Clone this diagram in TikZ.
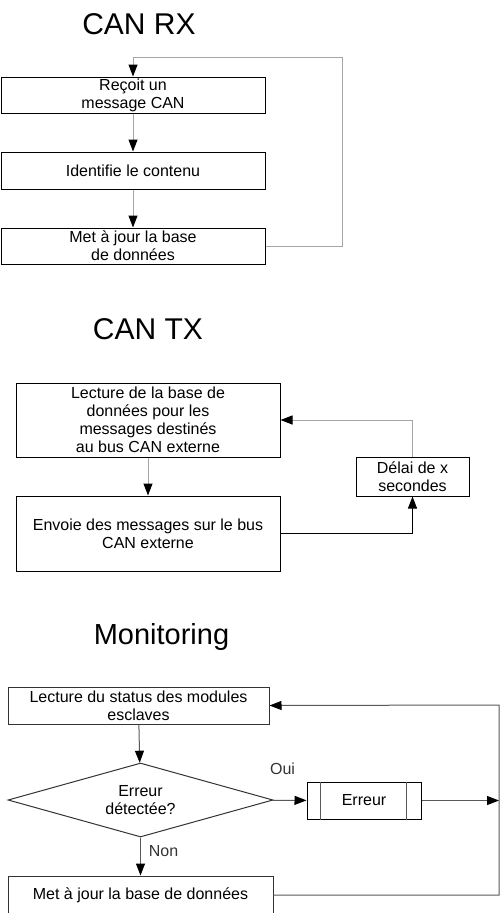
\documentclass[tikz,border=0pt]{standalone}
\usepackage{fontspec}
\setmainfont{Liberation Sans}
\usetikzlibrary{shapes.geometric,arrows.meta,positioning}

\begin{document}
\begin{tikzpicture}[x=1pt,y=-1pt, every node/.style={font=\fontsize{16}{18}\selectfont, align=center},
    box/.style={draw, rectangle, line width=1pt, inner sep=0pt},
    titre/.style={font=\fontsize{30}{33}\selectfont, anchor=base},
    flow/.style={gray!70, line width=1pt, -{Triangle[length=12pt,width=9pt,color=black]}},
    flownoir/.style={flow, black},
    flowmon/.style={flow, black!65}]
    \useasboundingbox (0,0) rectangle (500,913);

    % CAN RX
    \node[titre] (titreRX) at (139,34) {CAN RX};
    \node[box, minimum width=264pt, minimum height=36pt] (recoit) at (133,95) {Reçoit un\\message CAN};
    \node[box, minimum width=264pt, minimum height=37pt] (identifie) at (133,170.5) {Identifie le contenu};
    \node[box, minimum width=264pt, minimum height=36pt] (majRX) at (133,246) {Met à jour la base\\de données};
    \coordinate (boucleRX) at (342,57);
    \draw[flow] (recoit) -- (identifie);
    \draw[flow] (identifie) -- (majRX);
    \draw[flow] (majRX.east) -| (boucleRX) -| (recoit.north);

    % CAN TX
    \node[titre] (titreTX) at (148,339) {CAN TX};
    \node[box, minimum width=264pt, minimum height=74pt] (lectureTX) at (148,420) {Lecture de la base de\\données pour les\\messages destinés\\au bus CAN externe};
    \node[box, minimum width=264pt, minimum height=75pt] (envoie) at (148,533.5) {Envoie des messages sur le bus\\CAN externe};
    \node[box, minimum width=113pt, minimum height=39pt] (delai) at (412.5,476.5) {Délai de x\\secondes};
    \draw[flow] (lectureTX) -- (envoie);
    \draw[flownoir] (envoie.east) -| (delai.south);
    \draw[flow] (delai.north) |- (lectureTX.east);

    % Monitoring
    \node[titre, font=\fontsize{29}{32}\selectfont] (titreMon) at (161.5,644) {Monitoring};
    \node[box, draw=black!80, minimum width=261pt, minimum height=37pt] (status) at (138.5,705.5) {Lecture du status des modules\\esclaves};
    \node[draw, diamond, line width=1pt, draw=black!80, inner sep=0pt, aspect=3.6, minimum width=265pt, minimum height=74pt] (erreurQ) at (140.5,800) {Erreur\\détectée?};
    \node[box, minimum width=114pt, minimum height=37pt] (erreur) at (364,800.5) {Erreur};
    \foreach \s in {14,100}{
        \draw[black!65, line width=1pt] ([xshift=\s pt]erreur.north west) -- ([xshift=\s pt]erreur.south west);
    }
    \node[box, draw=black!80, minimum width=265pt, minimum height=38pt] (majMon) at (140.5,895) {Met à jour la base de données};
    \node[anchor=base, text=black!80] (oui) at (282.5,774) {Oui};
    \node[anchor=base, text=black!80] (non) at (163.5,856.5) {Non};
    \coordinate (retourMon) at (499,705);
    \draw[flowmon] (status) -- (erreurQ);
    \draw[flowmon] (erreurQ) -- (erreur);
    \draw[flowmon] (erreurQ) -- (majMon);
    \draw[flowmon] (erreur.east) -- (erreur.east -| retourMon);
    \draw[flowmon] (majMon.east) -| (retourMon) -- (status.east);
\end{tikzpicture}
\end{document}
